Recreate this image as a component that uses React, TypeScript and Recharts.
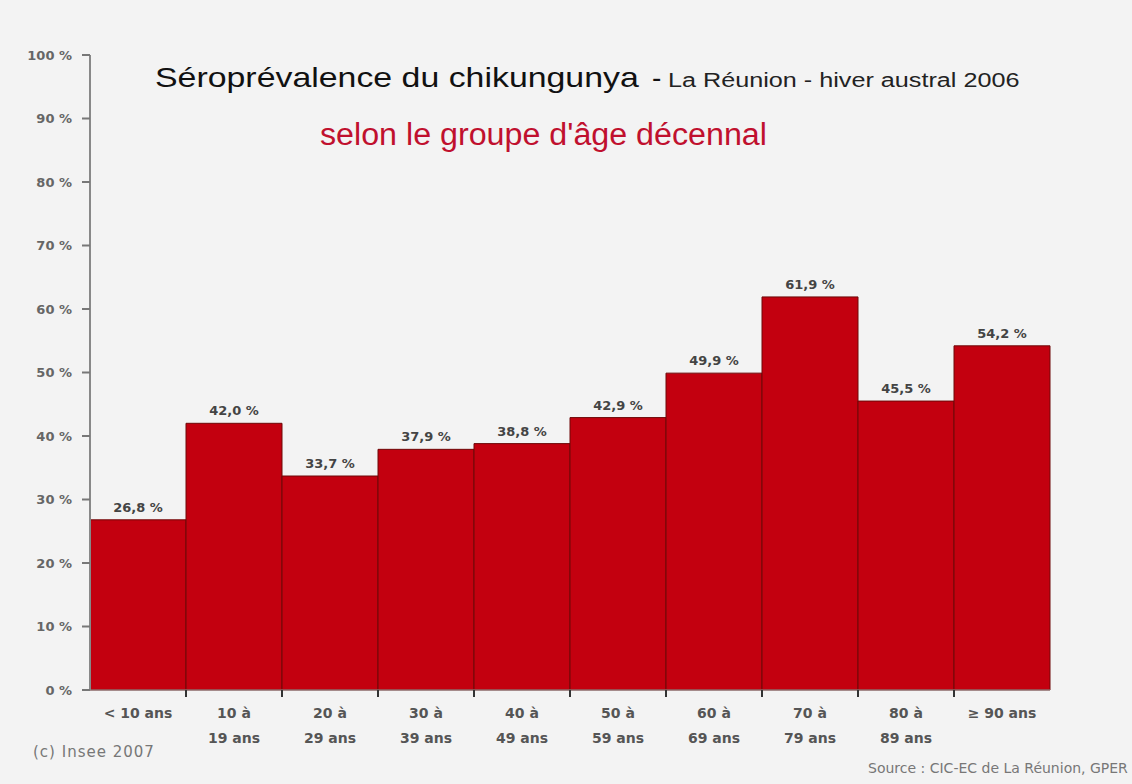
import React from 'react'
import { BarChart, Bar, XAxis, YAxis, LabelList } from 'recharts'

const ageGroups = [
  '< 10 ans',
  '10 à 19 ans',
  '20 à 29 ans',
  '30 à 39 ans',
  '40 à 49 ans',
  '50 à 59 ans',
  '60 à 69 ans',
  '70 à 79 ans',
  '80 à 89 ans',
  '≥ 90 ans',
]

const seroprevalence = [26.8, 42.0, 33.7, 37.9, 38.8, 42.9, 49.9, 61.9, 45.5, 54.2]

const yTicks = [0, 10, 20, 30, 40, 50, 60, 70, 80, 90, 100]

const data = ageGroups.map((name, i) => ({ name, value: seroprevalence[i] }))

const W = 1132
const H = 784
const margin = { top: 55, right: 82, bottom: 34, left: 0 }
const Y_AXIS_W = 90
const BAND = (W - margin.right - Y_AXIS_W) / ageGroups.length

const labelFont = '"DejaVu Sans", sans-serif'
const titleFont = '"Liberation Sans", Arial, sans-serif'

const fmt = (v: number) => v.toFixed(1).replace('.', ',') + ' %'

// bottom labels: "10 à" on one line, "19 ans" below
const AgeTick = (props: any) => {
  const { x, y, payload, index } = props
  const label: string = payload.value
  const parts = label.includes(' à ')
    ? [label.split(' à ')[0] + ' à', label.split(' à ')[1]]
    : [label]
  return (
    <g>
      {index > 0 && (
        <line x1={x - BAND / 2} x2={x - BAND / 2} y1={y} y2={y + 7} stroke="#333" strokeWidth={2} />
      )}
      {parts.map((p, i) => (
        <text
          key={i}
          x={x}
          y={y + 28 + i * 25}
          textAnchor="middle"
          fontFamily={labelFont}
          fontWeight="bold"
          fontSize={14}
          fill="#555"
        >
          {p}
        </text>
      ))}
    </g>
  )
}

export default function App() {
  return (
    <div style={{ position: 'absolute', left: 0, top: 0, width: W, height: H, background: '#f3f3f3' }}>
      <BarChart width={W} height={H} data={data} margin={margin} barCategoryGap={0}>
        <XAxis
          dataKey="name"
          height={60}
          tickLine={false}
          tickSize={0}
          tickMargin={0}
          axisLine={{ stroke: '#999', strokeWidth: 1 }}
          tick={<AgeTick />}
          interval={0}
        />
        <YAxis
          width={Y_AXIS_W}
          domain={[0, 100]}
          ticks={yTicks}
          tickFormatter={(v) => v + ' %'}
          tickSize={8}
          tickMargin={10}
          axisLine={{ stroke: '#888', strokeWidth: 2 }}
          tickLine={{ stroke: '#777', strokeWidth: 2 }}
          tick={{ fontFamily: labelFont, fontWeight: 'bold', fontSize: 13, fill: '#666' }}
        />
        <Bar dataKey="value" fill="#c3000f" stroke="#6e0808" strokeWidth={1} isAnimationActive={false}>
          <LabelList
            dataKey="value"
            position="top"
            offset={8}
            formatter={(v: any) => fmt(Number(v))}
            style={{ fontFamily: labelFont, fontWeight: 'bold', fontSize: 13, fill: '#444' }}
          />
        </Bar>
      </BarChart>
      <svg
        width={W}
        height={H}
        style={{ position: 'absolute', left: 0, top: 0, pointerEvents: 'none' }}
      >
        <text transform="translate(155,87) scale(1.21,1)" fontFamily={titleFont} fontSize={28} fill="#111">
          Séroprévalence du chikungunya
        </text>
        <text x={652} y={87} fontFamily={titleFont} fontSize={28} fill="#111">
          -
        </text>
        <text transform="translate(668,87) scale(1.2,1)" fontFamily={titleFont} fontSize={21} fill="#222">
          La Réunion - hiver austral 2006
        </text>
        <text transform="translate(320,145) scale(1.04,1)" fontFamily={titleFont} fontSize={31} fill="#c0102e">
          selon le groupe d'âge décennal
        </text>
        <text x={33} y={757} fontFamily={labelFont} fontSize={15} fill="#777" letterSpacing={1}>
          (c) Insee 2007
        </text>
        <text x={868} y={773} fontFamily={labelFont} fontSize={14} fill="#777">
          Source : CIC-EC de La Réunion, GPER
        </text>
      </svg>
    </div>
  )
}
